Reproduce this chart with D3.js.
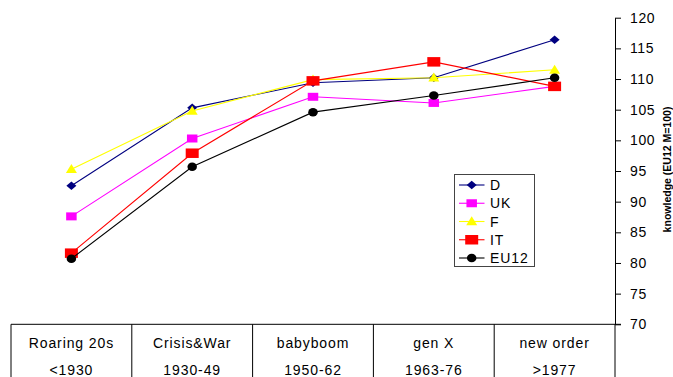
<!DOCTYPE html>
<html><head><meta charset="utf-8">
<script src="https://cdn.jsdelivr.net/npm/d3@7"></script>
<style>
html,body{margin:0;padding:0;background:#fff;}
text{font-family:"Liberation Sans",Arial,sans-serif;}
</style></head>
<body><svg id="c" width="673" height="377"></svg>
<script>
const categories = ["Roaring 20s","Crisis&War","babyboom","gen X","new order"];
const periods = ["<1930","1930-49","1950-62","1963-76",">1977"];
const seriesNames = ["D","UK","F","IT","EU12"];
const D    = [92.6, 105.3, 109.4, 110.2, 116.4];
const UK   = [87.6, 100.3, 107.1, 106.1, 108.8];
const F    = [95.3, 104.8, 109.9, 110.2, 111.5];
const IT   = [81.6, 97.9, 109.7, 112.8, 108.8];
const EU12 = [80.7, 95.7, 104.6, 107.3, 110.2];
const yTicks = [70,75,80,85,90,95,100,105,110,115,120];

const series = [
  {name:"D", values:D, color:"#000080", line:"#000080", shape:"diamond", w:10, h:8.5},
  {name:"UK", values:UK, color:"#FF00FF", line:"#FF00FF", shape:"square", w:10.5, h:8},
  {name:"F", values:F, color:"#FFFF00", line:"#FFFF00", shape:"triangle", w:11, h:9},
  {name:"IT", values:IT, color:"#FF0000", line:"#FF0000", shape:"square", w:13, h:9.5},
  {name:"EU12", values:EU12, color:"#000000", line:"#000000", shape:"circle", w:9.5, h:8.5}
];

const svg = d3.select("#c");
const pLeft = 11, pRight = 615, pTop = 17.7, pBottom = 324.3;
const x = d3.scaleBand().domain(categories).range([pLeft, pRight]).padding(0);
const y = d3.scaleLinear().domain([70,120]).range([pBottom, pTop]);
const cx = c => x(c) + x.bandwidth()/2;

// Y axis on the right, ticks pointing right
const yAxis = d3.axisRight(y).tickValues(yTicks).tickSize(6).tickPadding(9).tickSizeOuter(0);
const ga = svg.append("g").attr("transform", `translate(${pRight},0)`).call(yAxis);
ga.select(".domain").attr("stroke","#000").attr("stroke-width",1);
ga.selectAll(".tick line").attr("stroke","#000");
ga.selectAll(".tick text").attr("font-size","14px").attr("fill","#000").attr("font-family","Liberation Sans, Arial, sans-serif").style("letter-spacing","0.6px");

// Y axis title
svg.append("text").attr("transform","translate(671,169.5) rotate(-90)")
  .attr("text-anchor","middle").attr("font-size","10.5px").attr("font-weight","bold")
  .text("knowledge (EU12 M=100)");

// Category table (bottom)
svg.append("line").attr("x1",pLeft).attr("x2",pRight+6).attr("y1",pBottom).attr("y2",pBottom).attr("stroke","#000");
const bounds = categories.map(c => x(c)).concat([pRight]);
svg.selectAll(".vb").data(bounds).enter().append("line")
  .attr("x1",d=>d).attr("x2",d=>d).attr("y1",pBottom).attr("y2",377).attr("stroke","#000");
svg.selectAll(".c1").data(categories).enter().append("text")
  .attr("x",d=>cx(d)).attr("y",347.5).attr("text-anchor","middle").attr("font-size","14px")
  .style("letter-spacing","0.9px").text(d=>d);
svg.selectAll(".c2").data(categories).enter().append("text")
  .attr("x",d=>cx(d)).attr("y",374.5).attr("text-anchor","middle").attr("font-size","14px")
  .style("letter-spacing","0.9px").text((d,i)=>periods[i]);

function markerPath(shape,w,h){
  const a=w/2,b=h/2;
  if(shape==="diamond") return `M0,${-b}L${a},0L0,${b}L${-a},0Z`;
  if(shape==="square") return `M${-a},${-b}H${a}V${b}H${-a}Z`;
  if(shape==="triangle") return `M0,${-b*1.15}L${a},${b*0.85}L${-a},${b*0.85}Z`;
  return null;
}
function drawMarker(g, s, px, py){
  if(s.shape==="circle"){
    g.append("ellipse").attr("cx",px).attr("cy",py).attr("rx",s.w/2).attr("ry",s.h/2).attr("fill",s.color);
  } else {
    g.append("path").attr("transform",`translate(${px},${py})`).attr("d",markerPath(s.shape,s.w,s.h)).attr("fill",s.color);
  }
}

const line = d3.line().x((d,i)=>cx(categories[i])).y(d=>y(d));
series.forEach(s=>{
  const g = svg.append("g");
  g.append("path").attr("d",line(s.values)).attr("fill","none").attr("stroke",s.line).attr("stroke-width",1.1);
  s.values.forEach((v,i)=>drawMarker(g,s,cx(categories[i]),y(v)));
});

// Legend
const lg = svg.append("g");
lg.append("rect").attr("x",454.5).attr("y",174.5).attr("width",80).attr("height",92).attr("fill","#fff").attr("stroke","#444").attr("stroke-width",1);
const ly = d3.scalePoint().domain(seriesNames).range([185,258]);
series.forEach(s=>{
  const yy = ly(s.name);
  lg.append("line").attr("x1",459).attr("x2",484.5).attr("y1",yy).attr("y2",yy).attr("stroke",s.line).attr("stroke-width",1.1);
  drawMarker(lg,s,471.7,yy);
  lg.append("text").attr("x",490).attr("y",yy).attr("dy","0.36em").attr("font-size","14px").style("letter-spacing","0.9px").text(s.name);
});
</script></body></html>
